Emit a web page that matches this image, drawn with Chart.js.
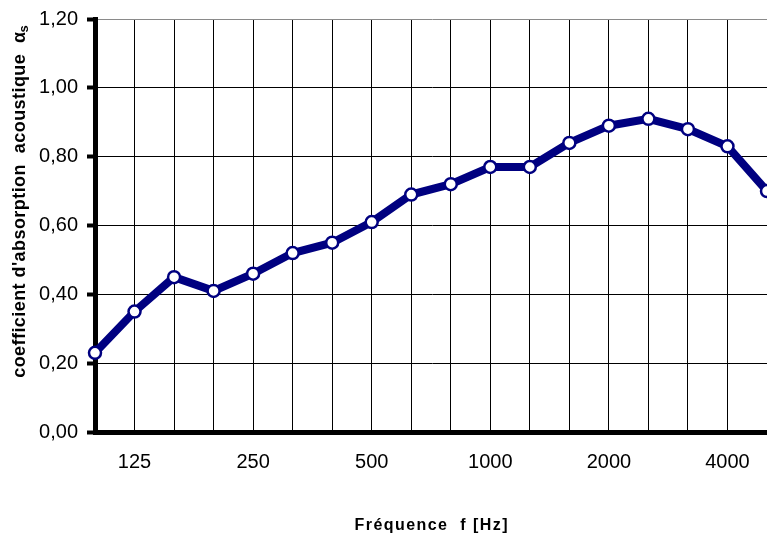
<!DOCTYPE html>
<html>
<head>
<meta charset="utf-8">
<script src="https://cdn.jsdelivr.net/npm/chart.js@4"></script>
<style>
html,body{margin:0;padding:0;background:#fff;}
#wrap{width:767px;height:533px;position:relative;}
</style>
</head>
<body>
<div id="wrap"><canvas id="c" width="767" height="533"></canvas></div>
<script>
const categories = ['100','125','160','200','250','315','400','500','630','800','1000','1250','1600','2000','2500','3150','4000','5000'];
const absorption = [0.23,0.35,0.45,0.41,0.46,0.52,0.55,0.61,0.69,0.72,0.77,0.77,0.84,0.89,0.91,0.88,0.83,0.70];
const shownXLabels = ['125','250','500','1000','2000','4000'];
const yTicks = [0,0.2,0.4,0.6,0.8,1.0,1.2];
const xTitle = 'Fréquence  f [Hz]';
const yTitle = "coefficient d'absorption  acoustique  ";
const yTitleSymbol = 'α';
const yTitleSub = 's';

const FONT = '"Liberation Sans", Arial, sans-serif';

const titles = {
  id: 'titles',
  afterDraw(chart) {
    const ctx = chart.ctx;
    const ca = chart.chartArea;
    ctx.save();
    ctx.fillStyle = '#000';
    // x title
    ctx.font = 'bold 16px ' + FONT;
    ctx.textAlign = 'left';
    ctx.textBaseline = 'alphabetic';
    const targetX = 153;
    let w = ctx.measureText(xTitle).width;
    const lsX = (targetX - w) / (xTitle.length - 1);
    ctx.letterSpacing = lsX + 'px';
    w = ctx.measureText(xTitle).width - lsX;
    ctx.fillText(xTitle, (ca.left + ca.right) / 2 - w / 2, 530);
    // y title
    ctx.translate(25, 201);
    ctx.rotate(-Math.PI / 2);
    ctx.letterSpacing = '0px';
    ctx.font = 'bold 18px ' + FONT;
    const w1 = ctx.measureText(yTitle).width;
    const w2 = ctx.measureText(yTitleSymbol).width;
    ctx.font = 'bold 13px ' + FONT;
    const w3 = ctx.measureText(yTitleSub).width;
    const targetY = 354;
    const n = yTitle.length + 2;
    const ls = (targetY - (w1 + w2 + w3)) / n;
    ctx.letterSpacing = ls + 'px';
    ctx.font = 'bold 18px ' + FONT;
    const tw1 = ctx.measureText(yTitle).width;
    const tw2 = ctx.measureText(yTitleSymbol).width;
    const total = tw1 + tw2 + w3;
    let x0 = -total / 2;
    ctx.fillText(yTitle, x0, 0);
    ctx.fillText(yTitleSymbol, x0 + tw1, 0);
    ctx.font = 'bold 13px ' + FONT;
    ctx.fillText(yTitleSub, x0 + tw1 + tw2 - 1, 3);
    ctx.restore();
  }
};

new Chart(document.getElementById('c'), {
  type: 'line',
  data: {
    labels: categories,
    datasets: [{
      data: absorption,
      borderColor: '#000080',
      borderWidth: 8,
      pointRadius: 6,
      pointBorderWidth: 2.5,
      pointBackgroundColor: '#ffffff',
      pointBorderColor: '#000080',
      tension: 0,
      clip: false
    }]
  },
  options: {
    responsive: false,
    animation: false,
    devicePixelRatio: 1,
    layout: { autoPadding: false, padding: { top: 19, right: 0, left: 0, bottom: 0 } },
    plugins: { legend: { display: false }, tooltip: { enabled: false } },
    scales: {
      x: {
        type: 'category',
        offset: false,
        grid: { color: '#000', lineWidth: 1, drawTicks: false },
        border: { color: '#000', width: 5 },
        ticks: {
          autoSkip: false, maxRotation: 0, minRotation: 0,
          color: '#000', padding: 18,
          font: { family: FONT, size: 20 },
          callback: function(v, i) { const l = categories[i]; return shownXLabels.includes(l) ? l : ''; }
        },
        afterFit(s) { s.height = 101; s.paddingLeft = 0; s.paddingRight = 0; }
      },
      y: {
        min: 0, max: 1.2,
        afterBuildTicks(s) { s.ticks = yTicks.map(v => ({ value: v })); },
        grid: {
          color: (c) => (c.tick && c.tick.value === 1.2) ? '#8a8a8a' : '#000',
          lineWidth: 1, tickLength: 8, tickWidth: 4, tickColor: '#000'
        },
        border: { color: '#000', width: 5 },
        ticks: {
          color: '#000', padding: 9,
          font: { family: FONT, size: 20 },
          callback: (v) => Number(v).toFixed(2).replace('.', ',')
        },
        afterFit(s) { s.width = 95; s.paddingTop = 0; s.paddingBottom = 0; }
      }
    }
  },
  plugins: [titles]
});
</script>
</body>
</html>
